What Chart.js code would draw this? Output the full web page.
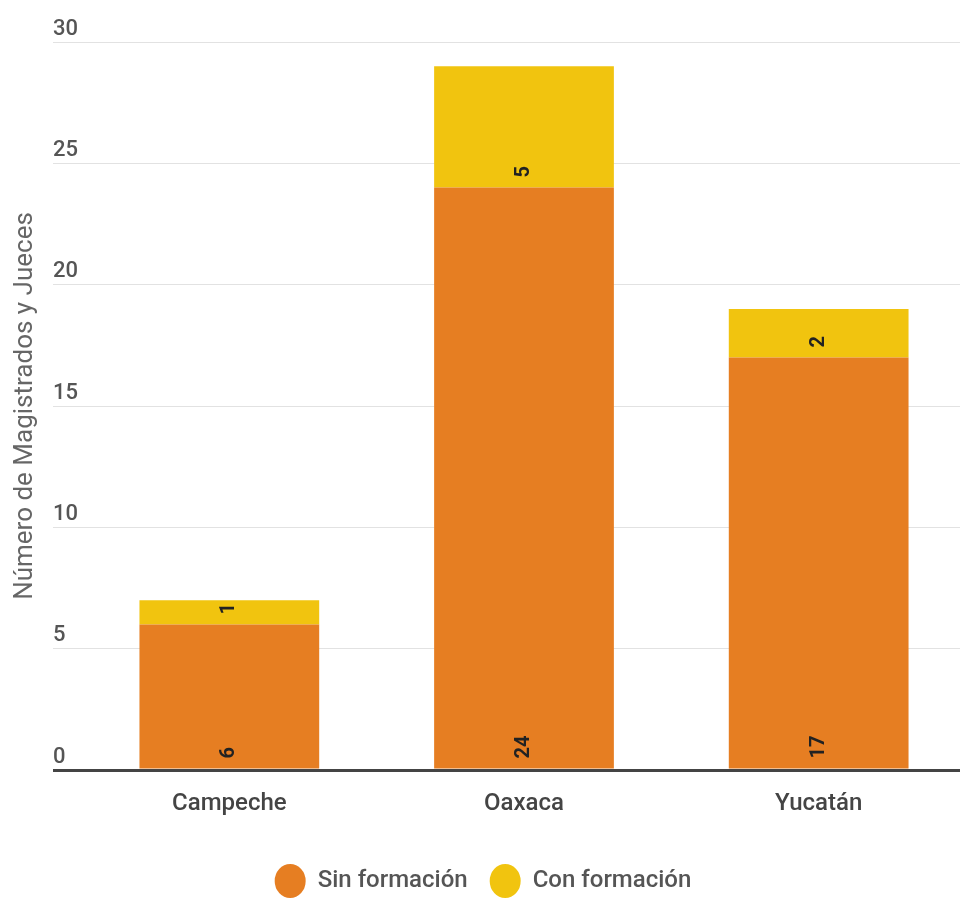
<!DOCTYPE html>
<html>
<head>
<meta charset="utf-8">
<script src="https://cdn.jsdelivr.net/npm/chart.js@4/dist/chart.umd.min.js"></script>
<style>
  html, body { margin: 0; padding: 0; background: #fff; overflow: hidden; }
  #wrap { width: 966px; height: 898px; position: relative; }
</style>
</head>
<body>
<div id="wrap"><canvas id="chart"></canvas></div>
<script>
// Data
const states = ["Campeche", "Oaxaca", "Yucatán"];
const sinFormacion = [6, 24, 17];
const conFormacion = [1, 5, 2];
const yTicks = [0, 5, 10, 15, 20, 25, 30];

// draws the value of each segment, rotated, near its base
const barLabels = {
  id: "barLabels",
  afterDatasetsDraw(chart) {
    const ctx = chart.ctx;
    ctx.save();
    ctx.font = "bold 20px Roboto";
    ctx.fillStyle = "#222";
    ctx.textAlign = "left";
    ctx.textBaseline = "middle";
    chart.data.datasets.forEach(function(ds, i) {
      chart.getDatasetMeta(i).data.forEach(function(bar, j) {
        ctx.save();
        ctx.translate(bar.x, bar.base - 10);
        ctx.rotate(-Math.PI / 2);
        ctx.fillText(ds.data[j], 0, 0);
        ctx.restore();
      });
    });
    ctx.restore();
  }
};

const ctx = document.getElementById("chart").getContext("2d");
new Chart(ctx, {
  type: "bar",
  data: {
    labels: states,
    datasets: [
      {
        label: "Sin formación",
        data: sinFormacion,
        backgroundColor: "#E67E22",
        barPercentage: 0.61,
        categoryPercentage: 1
      },
      {
        label: "Con formación",
        data: conFormacion,
        backgroundColor: "#F1C40F",
        barPercentage: 0.61,
        categoryPercentage: 1
      }
    ]
  },
  options: {
    responsive: true,
    maintainAspectRatio: false,
    animation: false,
    layout: { padding: { top: 42, bottom: -5, left: 0, right: 0 } },
    plugins: {
      tooltip: { enabled: false },
      legend: {
        position: "bottom",
        labels: {
          usePointStyle: true,
          pointStyle: "circle",
          pointStyleWidth: 31,
          padding: 22,
          color: "#555",
          font: { family: "Roboto", size: 24, weight: "500" }
        }
      }
    },
    scales: {
      x: {
        stacked: true,
        grid: { display: false },
        border: { display: false },
        afterFit: function(scale) {
          scale.height = 77;
        },
        ticks: {
          padding: 12,
          color: "#444",
          font: { family: "Roboto", size: 24, weight: "500" }
        }
      },
      y: {
        stacked: true,
        min: 0,
        max: 30,
        afterBuildTicks: function(scale) {
          scale.ticks = yTicks.map(function(v) { return { value: v }; });
        },
        afterFit: function(scale) {
          scale.width = 82;
        },
        border: { display: false },
        grid: {
          drawTicks: true,
          tickLength: 29,
          color: function(c) { return c.tick && c.tick.value === 0 ? "#444" : "#e2e2e2"; },
          lineWidth: function(c) { return c.tick && c.tick.value === 0 ? 3 : 1; }
        },
        ticks: {
          mirror: true,
          padding: -29,
          labelOffset: -13,
          color: "#555",
          font: { family: "Roboto", size: 22, weight: "500" }
        },
        title: {
          display: true,
          text: "Número de Magistrados y Jueces",
          color: "#666",
          padding: { top: 10, bottom: 0 },
          font: { family: "Roboto", size: 26, weight: "normal" }
        }
      }
    }
  },
  plugins: [barLabels]
});
</script>
</body>
</html>
